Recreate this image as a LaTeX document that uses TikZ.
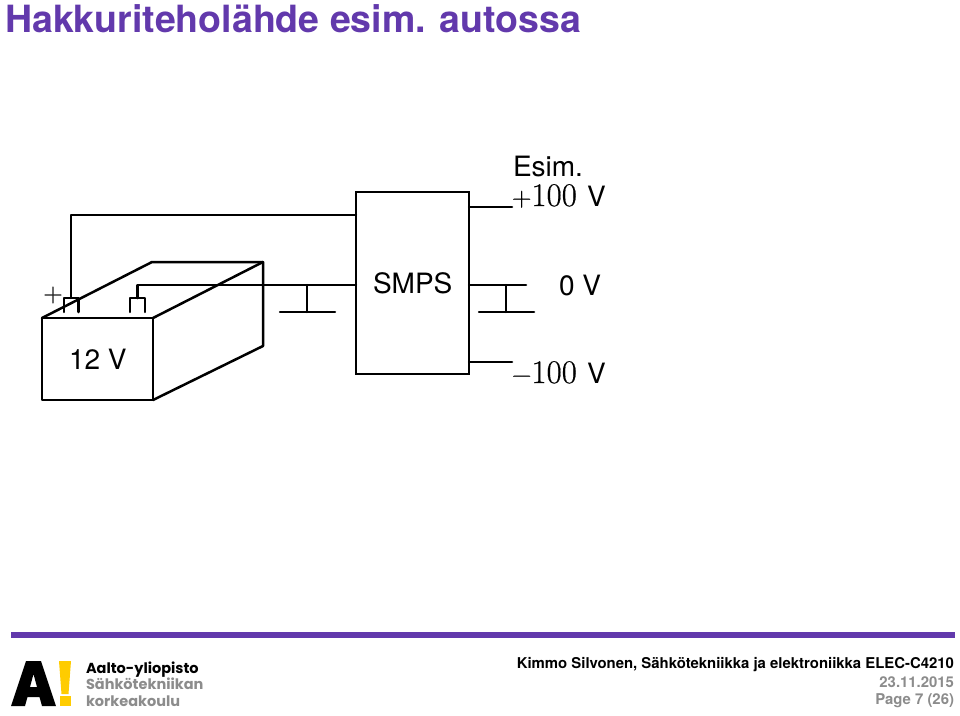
\documentclass[tikz,border=0pt]{standalone}
\usepackage{fontspec}
\setmainfont{TeX Gyre Heros}
\newfontfamily\logofont{Poppins}
\newfontfamily\lmfont[FakeBold=0.5]{Latin Modern Roman}
\definecolor{aaltopurple}{HTML}{6239AC}
\definecolor{aaltogrey}{HTML}{8C8C8C}
\definecolor{aaltoyellow}{HTML}{FFCC00}
\tikzset{
  wire/.style={line width=2.5pt,black,line join=round,line cap=round},
  txt/.style={inner sep=0pt,outer sep=0pt,anchor=base west,text=black,font=\fontsize{28}{28}\selectfont},
  rtxt/.style={inner sep=0pt,outer sep=0pt,anchor=base east,font=\bfseries\fontsize{14.9}{16}\selectfont},
  logotxt/.style={inner sep=0pt,outer sep=0pt,anchor=base west,font=\logofont\bfseries\fontsize{14.5}{16}\selectfont},
  block/.style={draw,line width=2.5pt,minimum width=113pt,minimum height=182pt,inner sep=0pt,outer sep=0pt}
}
\newcommand{\lmsign}[1]{{\lmfont\fontsize{27}{27}\selectfont #1}}
\newcommand{\lmnum}[1]{{\lmfont\fontsize{33}{33}\selectfont #1}}
\begin{document}
\begin{tikzpicture}[x=1pt,y=-1pt]
\useasboundingbox (0,0) rectangle (960,715);
\fill[white] (0,0) rectangle (960,715);
\node[inner sep=0pt,anchor=base west,text=aaltopurple,font=\bfseries\fontsize{37.5}{38}\selectfont] (title) at (5,32.5) {Hakkuriteholähde esim. autossa};

% battery corners
\coordinate (fa) at (42,318); \coordinate (fb) at (153,318);
\coordinate (fc) at (153,400); \coordinate (fd) at (42,400);
\coordinate (ba) at (152,262); \coordinate (bb) at (263,262);
\coordinate (bc) at (263,346);
\draw[wire] (fa) -- (fb) -- (fc) -- (fd) -- cycle;
\draw[wire] (fa) -- (ba) -- (bb) -- (bc) -- (fc);
\draw[wire] (fb) -- (bb);
\node[txt] (v12) at (69,369) {12 V};

% terminals
\coordinate (pl) at (64,312); \coordinate (pt) at (71,298); \coordinate (pr) at (78.5,312);
\coordinate (nl) at (130,312); \coordinate (nt) at (137.5,298); \coordinate (nr) at (145,312);
\draw[wire] (pl) -- (pl |- pt) -- (pr |- pt) -- (pr);
\draw[wire] (nl) -- (nl |- nt) -- (nr |- nt) -- (nr);
\node[anchor=center,inner sep=0pt] (plus) at (53,295) {\lmsign{+}};

% SMPS
\node[block] (smps) at (412.5,283) {};
\node[txt] (smpst) at (373,293) {SMPS};
\coordinate (in1) at (356,215);
\coordinate (in2) at (356,285);
\draw[wire] (pt) -- (71,215) -- (in1);
\draw[wire] (nt) -- (137.5,285) -- (in2);

% left ground
\coordinate (g1t) at (307,285); \coordinate (g1b) at (307,312);
\coordinate (g1l) at (280,312); \coordinate (g1r) at (335,312);
\draw[wire] (g1t) -- (g1b);
\draw[wire] (g1l) -- (g1r);

% outputs
\coordinate (o1a) at (469,207); \coordinate (o1b) at (512,207);
\coordinate (o2a) at (469,285); \coordinate (o2b) at (526,285);
\coordinate (o3a) at (469,362); \coordinate (o3b) at (512,362);
\coordinate (g2t) at (506,285); \coordinate (g2b) at (506,312);
\coordinate (g2l) at (479,312); \coordinate (g2r) at (534,312);
\draw[wire] (o1a) -- (o1b);
\draw[wire] (o2a) -- (o2b);
\draw[wire] (o3a) -- (o3b);
\draw[wire] (g2t) -- (g2b);
\draw[wire] (g2l) -- (g2r);

\node[txt] (esim) at (513,176) {Esim.};
\node[txt] (vp) at (512,206) {\lmsign{+}\lmnum{100}\hspace{2.5pt} V};
\node[txt] (v0) at (559,295) {0 V};
\node[txt] (vm) at (512,383) {\lmsign{−}\lmnum{100}\hspace{2.5pt} V};

% footer
\fill[aaltopurple] (11,632) rectangle (955,638);
\fill[black,even odd rule] (11,706) -- (26,661) -- (41,661) -- (56,706) -- (42,706) -- (39.5,697) -- (27.5,697) -- (25,706) -- cycle
  (33.5,674) -- (30,687) -- (37,687) -- cycle;
\fill[aaltoyellow] (59,661) -- (71,661) -- (68.5,694) -- (61.5,694) -- cycle;
\fill[aaltoyellow] (60,696) rectangle (70.5,705.5);
\node[logotxt,text=black] (l1) at (86,673) {Aalto-yliopisto};
\node[logotxt,text=aaltogrey] (l2) at (86,689) {Sähkötekniikan};
\node[logotxt,text=aaltogrey] (l3) at (86,706) {korkeakoulu};
\node[rtxt,text=black] (f1) at (954,668) {Kimmo Silvonen, Sähkötekniikka ja elektroniikka ELEC-C4210};
\node[rtxt,text=aaltogrey] (f2) at (954,687) {23.11.2015};
\node[rtxt,text=aaltogrey] (f3) at (954,704) {Page 7 (26)};
\end{tikzpicture}
\end{document}
